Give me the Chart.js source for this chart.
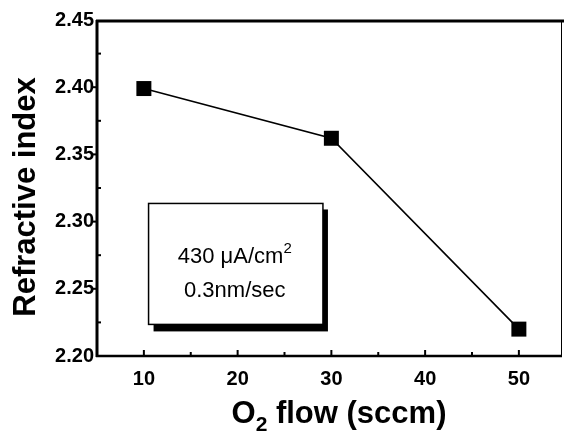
<!DOCTYPE html>
<html>
<head>
<meta charset="utf-8">
<script src="https://cdn.jsdelivr.net/npm/chart.js@4/dist/chart.umd.min.js"></script>
<style>
  html, body { margin: 0; padding: 0; background: #fff; }
  #wrap { width: 564px; height: 435px; }
</style>
</head>
<body>
<div id="wrap"><canvas id="c" width="564" height="435"></canvas></div>
<script>
// ---- data ----
const flowSccm = [10, 30, 50];
const refractiveIndex = [2.399, 2.362, 2.220];
const xTickLabels = [10, 20, 30, 40, 50];
const xMinorTicks = [15, 25, 35, 45];
const yTickLabels = [2.20, 2.25, 2.30, 2.35, 2.40, 2.45];
const boxLines = ['430 \u03BCA/cm', '0.3nm/sec'];
const xTitleParts = ['O', '2', ' flow (sccm)'];
const yTitle = 'Refractive index';

const FONT = '"Liberation Sans", Arial, Helvetica, sans-serif';

const framePlugin = {
  id: 'framePlugin',
  afterDraw(chart) {
    const ctx = chart.ctx;
    const xs = chart.scales.x, ys = chart.scales.y;
    const a = chart.chartArea;
    ctx.save();
    ctx.strokeStyle = '#000';
    ctx.lineCap = 'butt';
    // top frame line
    ctx.lineWidth = 3;
    ctx.beginPath(); ctx.moveTo(a.left - 1, a.top + 1); ctx.lineTo(a.right + 2, a.top + 1); ctx.stroke();
    // left axis
    ctx.lineWidth = 3;
    ctx.beginPath(); ctx.moveTo(a.left, a.top); ctx.lineTo(a.left, a.bottom + 1); ctx.stroke();
    // bottom axis
    ctx.lineWidth = 2.5;
    ctx.beginPath(); ctx.moveTo(a.left - 1, a.bottom); ctx.lineTo(a.right, a.bottom); ctx.stroke();
    // right frame
    ctx.lineWidth = 1;
    ctx.beginPath(); ctx.moveTo(a.right - 0.5, a.top); ctx.lineTo(a.right - 0.5, a.bottom); ctx.stroke();

    // x ticks (inward)
    ctx.lineWidth = 2;
    xs.ticks.forEach(t => {
      const px = xs.getPixelForValue(t.value);
      if (px <= a.left + 2 || px >= a.right - 2) return;
      const major = xTickLabels.includes(t.value);
      const len = major ? 6 : 4;
      ctx.beginPath(); ctx.moveTo(px, a.bottom); ctx.lineTo(px, a.bottom - len); ctx.stroke();
    });
    // y ticks
    ys.ticks.forEach(t => {
      const py = ys.getPixelForValue(t.value);
      if (py <= a.top + 2 || py >= a.bottom - 2) return;
      const major = yTickLabels.some(v => Math.abs(v - t.value) < 1e-6);
      ctx.beginPath();
      if (major) { ctx.moveTo(a.left, py); ctx.lineTo(a.left - 5, py); }
      else { ctx.moveTo(a.left, py); ctx.lineTo(a.left + 4, py); }
      ctx.stroke();
    });

    // annotation box
    const bx1 = xs.getPixelForValue(10.5), bx2 = xs.getPixelForValue(29.1);
    const by1 = ys.getPixelForValue(2.3135), by2 = ys.getPixelForValue(2.2235);
    ctx.fillStyle = '#000';
    ctx.fillRect(bx1 + 5, by1 + 6, bx2 - bx1, by2 - by1 + 1);
    ctx.fillStyle = '#fff';
    ctx.fillRect(bx1, by1, bx2 - bx1, by2 - by1);
    ctx.lineWidth = 1.5;
    ctx.strokeRect(bx1, by1, bx2 - bx1, by2 - by1);
    ctx.fillStyle = '#000';
    ctx.textBaseline = 'alphabetic';
    const cx = (bx1 + bx2) / 2 - 1;
    ctx.font = '22px ' + FONT;
    const w1 = ctx.measureText(boxLines[0]).width;
    ctx.font = '15px ' + FONT;
    const wsup = ctx.measureText('2').width;
    const l1x = cx - (w1 + wsup) / 2;
    ctx.textAlign = 'left';
    ctx.font = '22px ' + FONT;
    ctx.fillText(boxLines[0], l1x, by1 + 60);
    ctx.font = '15px ' + FONT;
    ctx.fillText('2', l1x + w1, by1 + 50);
    ctx.font = '22px ' + FONT;
    ctx.textAlign = 'center';
    ctx.fillText(boxLines[1], cx, by1 + 94);

    // x axis title with subscript
    ctx.font = 'bold 31px ' + FONT;
    ctx.textAlign = 'left';
    const wO = ctx.measureText(xTitleParts[0]).width;
    const wRest = ctx.measureText(xTitleParts[2]).width;
    ctx.font = 'bold 21px ' + FONT;
    const wSub = ctx.measureText(xTitleParts[1]).width;
    const total = wO + wSub + wRest;
    const tx = 339 - total / 2;
    const ty = 423;
    ctx.font = 'bold 31px ' + FONT;
    ctx.fillText(xTitleParts[0], tx, ty);
    ctx.font = 'bold 21px ' + FONT;
    ctx.fillText(xTitleParts[1], tx + wO, ty + 8);
    ctx.font = 'bold 31px ' + FONT;
    ctx.fillText(xTitleParts[2], tx + wO + wSub, ty);

    // y axis title
    ctx.save();
    ctx.translate(35, 197);
    ctx.rotate(-Math.PI / 2);
    ctx.font = 'bold 31px ' + FONT;
    ctx.textAlign = 'center';
    ctx.textBaseline = 'alphabetic';
    ctx.fillText(yTitle, 0, 0);
    ctx.restore();
    ctx.restore();
  }
};

new Chart(document.getElementById('c'), {
  type: 'line',
  data: {
    datasets: [{
      data: flowSccm.map((x, i) => ({ x: x, y: refractiveIndex[i] })),
      borderColor: '#000',
      borderWidth: 1.6,
      backgroundColor: '#000',
      pointStyle: 'rect',
      pointRadius: 10.6,
      pointHoverRadius: 10.6,
      pointBorderWidth: 0,
      tension: 0,
      fill: false
    }]
  },
  options: {
    responsive: false,
    animation: false,
    devicePixelRatio: 1,
    layout: { autoPadding: false, padding: { top: 20, right: 2, left: 0, bottom: 0 } },
    plugins: { legend: { display: false }, tooltip: { enabled: false } },
    scales: {
      x: {
        type: 'linear', min: 5, max: 54.6,
        grid: { display: false, drawTicks: false },
        border: { display: false },
        afterBuildTicks(s) {
          s.ticks = xTickLabels.concat(xMinorTicks).sort((p, q) => p - q).map(v => ({ value: v }));
        },
        afterFit(s) { s.height = 79; s.paddingLeft = 0; s.paddingRight = 0; },
        ticks: {
          autoSkip: false, padding: 11, maxRotation: 0,
          color: '#000',
          font: { family: FONT, size: 20, weight: 'bold' },
          callback: v => xTickLabels.includes(v) ? String(v) : ''
        },
        title: { display: false }
      },
      y: {
        type: 'linear', min: 2.2, max: 2.45,
        grid: { display: false, drawTicks: false },
        border: { display: false },
        afterFit(s) { s.width = 97; s.paddingTop = 0; s.paddingBottom = 0; },
        ticks: {
          stepSize: 0.025, autoSkip: false, padding: 3,
          color: '#000',
          font: { family: FONT, size: 20, weight: 'bold' },
          callback: v => {
            const m = yTickLabels.find(t => Math.abs(t - v) < 1e-6);
            return m !== undefined ? m.toFixed(2) : '';
          }
        },
        title: { display: false }
      }
    }
  },
  plugins: [framePlugin]
});
</script>
</body>
</html>
